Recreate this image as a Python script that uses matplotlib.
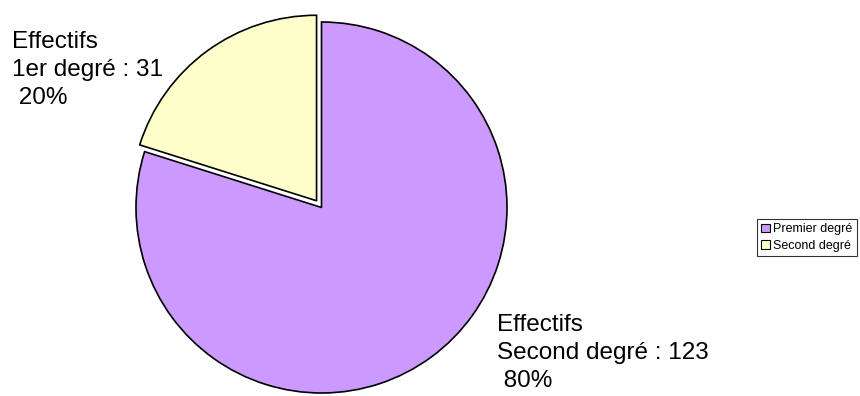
import matplotlib
matplotlib.use("Agg")
import matplotlib.pyplot as plt
from matplotlib.patches import Patch

categories = ["Premier degré", "Second degré"]
values = [123, 31]
colors = ["#CC99FF", "#FFFFCC"]
label_texts = ["Effectifs\nSecond degré : 123\n 80%", "Effectifs\n1er degré : 31\n 20%"]

plt.rcParams['font.family'] = ['Liberation Sans', 'DejaVu Sans']

W, H = 860, 396
fig = plt.figure(figsize=(W / 100, H / 100), dpi=100)
ax = fig.add_axes([0, 0, 1, 1])

cx, cy, r = 321.5, H - 207.5, 185.5

wedges, _ = ax.pie(values, colors=colors, startangle=90, counterclock=False,
                   explode=[0, 0.045], radius=1,
                   wedgeprops=dict(edgecolor='black', linewidth=1.2))

ax.set_xlim(-cx / r, (W - cx) / r)
ax.set_ylim(-cy / r, (H - cy) / r)
ax.set_aspect('auto')
ax.axis('off')

# labels
def px(x, y):
    return ((x - cx) / r, (H - y - cy) / r)

ax.text(*px(12, 31), label_texts[1], ha='left', va='top', fontsize=17.5, linespacing=1.36)
ax.text(*px(497, 314), label_texts[0], ha='left', va='top', fontsize=17.5, linespacing=1.36)

handles = [Patch(facecolor=c, edgecolor='black', linewidth=0.8) for c in colors]
leg = fig.legend(handles, categories, loc='upper left', bbox_to_anchor=(757 / W, 1 - 219 / H),
                 fontsize=9, frameon=True, fancybox=False, edgecolor='black',
                 handlelength=0.7, handleheight=0.7, handletextpad=0.25,
                 borderpad=0.35, labelspacing=0.35, borderaxespad=0)
leg.get_frame().set_linewidth(0.8)

fig.savefig("out.png", dpi=100)
